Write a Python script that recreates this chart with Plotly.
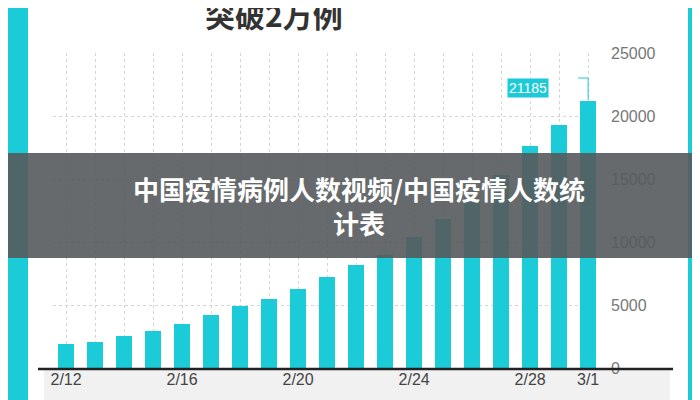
import plotly.graph_objects as go

dates = ["2/12","2/13","2/14","2/15","2/16","2/17","2/18","2/19","2/20","2/21",
         "2/22","2/23","2/24","2/25","2/26","2/27","2/28","2/29","3/1"]
values = [1900,2060,2540,2900,3500,4200,4900,5500,6300,7200,
          8200,9000,10400,11800,13500,15300,17600,19300,21185]
tick_dates = ["2/12","2/16","2/20","2/24","2/28","3/1"]
y_ticks = [0,5000,10000,15000,20000,25000]

TEAL = "#1ccbd8"
W, H = 700, 400
L, R, T, B = 45, 110, 45, 40
pw, ph = W - L - R, H - T - B
def px(x): return (x - L) / pw
def py(y): return 1 - (y - T) / ph

fig = go.Figure(go.Bar(x=list(range(len(dates))), y=values, marker_color=TEAL,
                       marker_line_width=0, width=0.55))
shapes = [
    dict(type="rect", xref="paper", yref="paper", x0=px(20), x1=px(680), y0=py(400), y1=py(0),
         fillcolor="white", line_width=0, layer="below"),
    dict(type="rect", xref="paper", yref="paper", x0=px(36), x1=px(662), y0=py(396), y1=py(362),
         fillcolor="#f1f1f1", line_width=0, layer="below"),
    dict(type="line", xref="paper", yref="paper", x0=px(30), x1=px(665), y0=py(361), y1=py(361),
         line=dict(color="#222", width=2.5)),
    dict(type="line", x0=len(dates)-1, x1=len(dates)-1, yref="paper", y0=py(92), y1=py(70),
         line=dict(color=TEAL, width=1)),
    dict(type="line", xref="paper", yref="paper", x0=px(570), x1=px(580), y0=py(70), y1=py(70),
         line=dict(color=TEAL, width=1)),
    dict(type="rect", xref="paper", yref="paper", x0=px(-5), x1=px(705), y0=py(250), y1=py(145),
         fillcolor="rgba(85,90,92,0.9)", line_width=0, layer="above"),
]
ann = [
    dict(xref="paper", yref="paper", x=px(541), y=py(70), text="21185", showarrow=False,
         font=dict(color="white", size=14, family="Liberation Sans"), bgcolor=TEAL,
         borderpad=1),
    dict(xref="paper", yref="paper", x=px(195), y=py(6), yanchor="middle",
         text="<b>突破2万例</b>", showarrow=False,
         font=dict(color="#333", size=30, family="Noto Sans CJK SC")),
    dict(xref="paper", yref="paper", x=px(351), y=py(197),
         text="<b>中国疫情病例人数视频/中国疫情人数统<br>计表</b>", showarrow=False,
         font=dict(color="white", size=26, family="Noto Sans CJK SC")),
]
fig.update_layout(
    width=W, height=H, margin=dict(l=L, r=R, t=T, b=B),
    paper_bgcolor=TEAL, plot_bgcolor="white", showlegend=False,
    shapes=shapes, annotations=ann, bargap=0,
    xaxis=dict(range=[-0.45, 18.34], tickvals=[dates.index(d) for d in tick_dates],
               ticktext=tick_dates, showgrid=True, gridcolor="#d5d5d5", griddash="dot",
               tickfont=dict(color="#444", size=16, family="Liberation Sans"), zeroline=False),
    yaxis=dict(range=[0, 25000], side="right", tickvals=y_ticks, tickformat="d",
               tickfont=dict(color="#777", size=16, family="Liberation Sans"),
               showgrid=True, gridcolor="#d5d5d5", griddash="dot", zeroline=False, ticklabelstandoff=12),
)
fig.update_xaxes(minor=dict(tickvals=list(range(len(dates))), showgrid=True, gridcolor="#d5d5d5", griddash="dot"))
fig.write_html("out.html")
